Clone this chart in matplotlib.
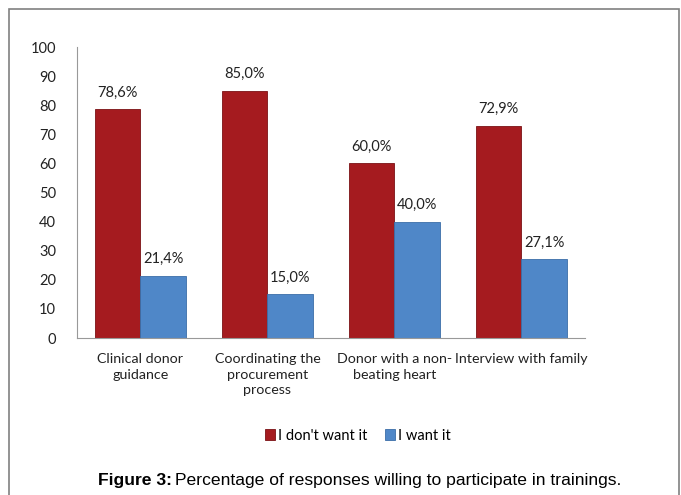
import matplotlib.pyplot as plt
import numpy as np
from matplotlib.patches import Rectangle

# data
categories = ['Clinical donor\nguidance', 'Coordinating the\nprocurement\nprocess',
              'Donor with a non-\nbeating heart', 'Interview with family']
dont_want = [78.6, 85.0, 60.0, 72.9]
want = [21.4, 15.0, 40.0, 27.1]
series_names = ["I don't want it", 'I want it']

red = '#a51b1f'
blue = '#4f87c8'
label_font = 'Lato'
fs = 10

fig = plt.figure(figsize=(6.81, 4.95), dpi=100)
ax = fig.add_axes([0.113, 0.317, 0.746, 0.588])

x = np.arange(len(categories))
w = 0.36
b1 = ax.bar(x - w / 2, dont_want, w, color=red, edgecolor='#7a1215', linewidth=0.6, label=series_names[0])
b2 = ax.bar(x + w / 2, want, w, color=blue, edgecolor='#3b6ea8', linewidth=0.6, label=series_names[1])

for bars, vals in [(b1, dont_want), (b2, want)]:
    for rect, v in zip(bars, vals):
        ax.annotate(f'{v:.1f}%'.replace('.', ','), (rect.get_x() + rect.get_width() / 2, v),
                    xytext=(0, 7), textcoords='offset points', ha='center', va='bottom',
                    fontsize=fs + 0.5, family=label_font, color='#222222')

ax.set_xlim(-0.5, 3.5)
ax.set_ylim(0, 100)
ax.set_yticks(range(0, 101, 10))
ax.set_xticks(x)
ax.set_xticklabels(categories, fontsize=fs + 0.3, family=label_font, linespacing=1.35)
for lbl in ax.get_yticklabels():
    lbl.set_fontsize(fs + 0.5)
    lbl.set_family(label_font)
ax.tick_params(axis='both', length=0, colors='#222222')
ax.tick_params(axis='x', pad=11)
ax.tick_params(axis='y', pad=15)
for s in ['top', 'right']:
    ax.spines[s].set_visible(False)
ax.spines['left'].set_color('#999999')
ax.spines['bottom'].set_color('#999999')

fig.legend(handles=[b1, b2], labels=series_names, loc='center', bbox_to_anchor=(0.525, 0.12),
           ncol=2, frameon=False, handlelength=0.7, handleheight=0.7, handletextpad=0.2,
           columnspacing=1.2, prop={'family': label_font, 'size': fs + 0.5})

# outer frame
fig.patches.append(Rectangle((9 / 681, -0.1), 670 / 681, 1.1 - 9 / 495, transform=fig.transFigure,
                             fill=False, edgecolor='#808080', linewidth=1.2))

# caption
fig.text(172 / 681, 0.03, 'Figure 3:', ha='right', va='center', fontsize=12.6,
         fontweight='bold', family='Liberation Sans')
fig.text(175 / 681, 0.03, 'Percentage of responses willing to participate in trainings.',
         ha='left', va='center', fontsize=12.6, family='Liberation Sans')

fig.savefig('out.png', dpi=100)
